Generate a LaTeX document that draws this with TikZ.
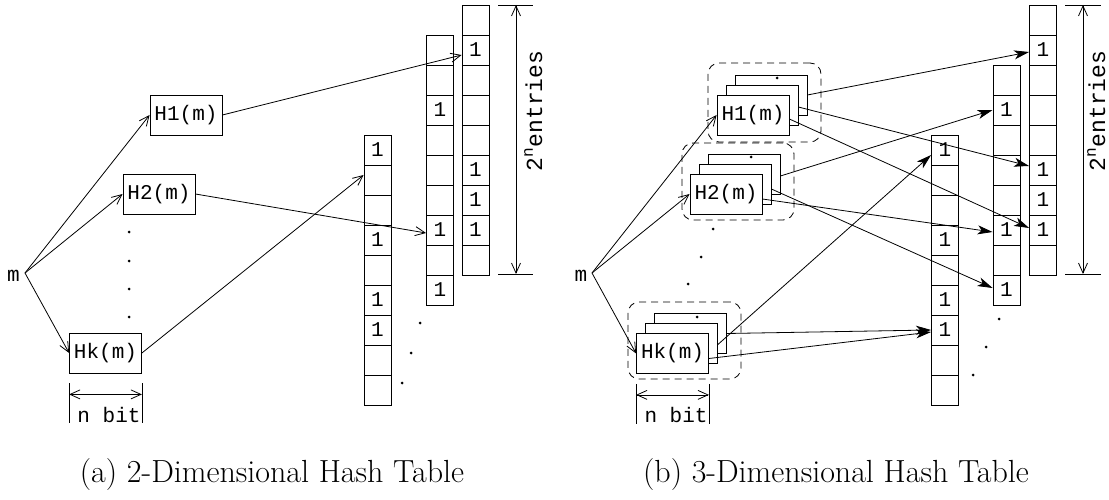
\documentclass[tikz,border=0pt]{standalone}
\usepackage{fontspec}
\setmonofont{Liberation Mono}
\usetikzlibrary{arrows.meta,calc}
\begin{document}
\begin{tikzpicture}[x=1pt,y=-1pt,line width=0.8pt,
  tt/.style={font=\ttfamily\fontsize{21}{21}\selectfont},
  ttbig/.style={font=\ttfamily\fontsize{23}{23}\selectfont},
  hash/.style={draw,fill=white,minimum width=72pt,minimum height=40pt,inner sep=0pt,tt},
  cell/.style={draw,minimum width=27pt,minimum height=30pt,inner sep=0pt,tt},
  oarrow/.style={-{Straight Barb[length=10pt,width=9pt]}},
  dbl/.style={{Straight Barb[length=10pt,width=9pt]}-{Straight Barb[length=10pt,width=9pt]}},
  farrow/.style={-{Stealth[length=15pt,width=9pt,inset=4pt]}},
  grp/.style={draw,dash pattern=on 7pt off 5pt,rounded corners=11pt},
  dot/.style={circle,fill,inner sep=0pt,minimum size=3pt},
  captext/.style={font=\fontsize{32}{32}\selectfont}]
\useasboundingbox (0,0) rectangle (1109,500);

% ================= (a) =================
\node[tt] (ma-t) at (13.5,276) {m};
\coordinate (ma) at (25,273);
\node[hash] (H1a) at (186,115) {H1(m)};
\node[hash] (H2a) at (159,194) {H2(m)};
\node[hash] (Hka) at (105.5,353) {Hk(m)};
\foreach \y [count=\k] in {232,261,289,317} \node[dot] (da\k) at (129,\y) {};

\foreach \i/\t in {1/1,2/{},3/{},4/1,5/{},6/1,7/1,8/{},9/{}}
  \node[cell] (A1-\i) at (377.5,{120+30*\i}) {\t};
\foreach \i/\t in {1/{},2/{},3/1,4/{},5/{},6/{},7/1,8/{},9/1}
  \node[cell] (A2-\i) at (440,{20+30*\i}) {\t};
\foreach \i/\t in {1/{},2/1,3/{},4/{},5/{},6/1,7/1,8/1,9/{}}
  \node[cell] (A3-\i) at (475.5,{-10+30*\i}) {\t};
\node[dot] (ta1) at (420,323) {};
\node[dot] (ta2) at (411,353) {};
\node[dot] (ta3) at (402,383) {};

\draw[oarrow] (ma) -- (H1a.west);
\draw[oarrow] (ma) -- (H2a.west);
\draw[oarrow] (ma) -- (Hka.west);
\draw[oarrow] (H1a.east) -- ($(A3-2.west)+(0,5)$);
\draw[oarrow] (H2a.east) -- ($(A2-7.west)+(0,3)$);
\draw[oarrow] (Hka.east) -- ($(A1-2.west)+(0,-5)$);

% n bit (a)
\draw ($(Hka.south west)+(0,10)$) -- ($(Hka.south west)+(0,50)$);
\draw ($(Hka.south east)+(0,10)$) -- ($(Hka.south east)+(0,50)$);
\draw[dbl] ($(Hka.south west)+(0,21)$) -- ($(Hka.south east)+(0,21)$);
\node[tt,anchor=base] (nba) at (109,422) {n bit};

% 2^n entries (a)
\coordinate (ea-t) at (516,5);
\coordinate (ea-b) at (516,274);
\draw ($(ea-t)+(-18,0)$) -- ($(ea-t)+(17,0)$);
\draw ($(ea-b)+(-18,0)$) -- ($(ea-b)+(17,0)$);
\draw[dbl] (ea-t) -- (ea-b);
\node[ttbig,rotate=90,anchor=base,inner sep=0pt] (ena) at (542,111) {2\textsuperscript{n}entries};

\node[captext] (capa) at (272,475) {(a) 2-Dimensional Hash Table};

% ================= (b) =================
\node[tt] (mb-t) at (581,276) {m};
\coordinate (mb) at (592,273);

\node[grp,minimum width=113pt,minimum height=79pt] (G1) at (764.5,102.5) {};
\node[grp,minimum width=112pt,minimum height=77pt] (G2) at (738,181.5) {};
\node[grp,minimum width=113pt,minimum height=77pt] (Gk) at (684.5,340.5) {};

\node[hash] (H1b3) at (771,95) {};
\node[dot] (H1b3d) at (777,78) {};
\node[hash] (H1b2) at (762,105) {};
\node[hash] (H1b) at (753,115) {H1(m)};

\node[hash] (H2b3) at (744,174) {};
\node[dot] (H2b3d) at (751,157) {};
\node[hash] (H2b2) at (735,184) {};
\node[hash] (H2b) at (726,194) {H2(m)};

\node[hash] (Hkb3) at (690.5,333.5) {};
\node[dot] (Hkb3d) at (697,317) {};
\node[hash] (Hkb2) at (681.5,343.5) {};
\node[hash] (Hkb) at (672.5,353.5) {Hk(m)};

\node[dot] (db1) at (713,229) {};
\node[dot] (db2) at (701,257) {};
\node[dot] (db3) at (688,284) {};

\foreach \i/\t in {1/1,2/{},3/{},4/1,5/{},6/1,7/1,8/{},9/{}}
  \node[cell] (B1-\i) at (945,{120+30*\i}) {\t};
\foreach \i/\t in {1/{},2/1,3/{},4/{},5/{},6/1,7/{},8/1}
  \node[cell] (B2-\i) at (1006.5,{50+30*\i}) {\t};
\foreach \i/\t in {1/{},2/1,3/{},4/{},5/{},6/1,7/1,8/1,9/{}}
  \node[cell] (B3-\i) at (1043,{-10+30*\i}) {\t};
\node[dot] (tb1) at (999,319) {};
\node[dot] (tb2) at (986,347) {};
\node[dot] (tb3) at (973,375) {};

\draw[oarrow] (mb) -- (H1b.west);
\draw[oarrow] (mb) -- (H2b.west);
\draw[oarrow] (mb) -- (Hkb.west);

\draw[farrow] (H1b3.east) -- ($(B3-2.west)+(0,2)$);
\draw[farrow] ($(H1b2.east)+(0,2)$) -- ($(B3-6.west)+(0,-4)$);
\draw[farrow] ($(H1b.east)+(0,4)$) -- ($(B3-8.west)+(0,-2)$);
\draw[farrow] ($(H2b3.east)+(0,2)$) -- (B2-2.west);
\draw[farrow] ($(H2b2.east)+(0,5)$) -- ($(B2-8.west)+(0,-2)$);
\draw[farrow] ($(H2b.east)+(0,5)$) -- ($(B2-6.west)+(0,2)$);
\draw[farrow] (Hkb3.east) -- (B1-7.west);
\draw[farrow] ($(Hkb2.east)+(0,1)$) -- ($(B1-1.west)+(0,5)$);
\draw[farrow] ($(Hkb.east)+(0,5)$) -- ($(B1-7.west)+(0,2)$);

% n bit (b)
\draw ($(Hkb.south west)+(0,10)$) -- ($(Hkb.south west)+(0,50)$);
\draw ($(Hkb.south east)+(0,10)$) -- ($(Hkb.south east)+(0,50)$);
\draw[dbl] ($(Hkb.south west)+(0,21)$) -- ($(Hkb.south east)+(0,21)$);
\node[tt,anchor=base] (nbb) at (676,422) {n bit};

% 2^n entries (b)
\coordinate (eb-t) at (1083,5);
\coordinate (eb-b) at (1083,274);
\draw ($(eb-t)+(-18,0)$) -- ($(eb-t)+(18,0)$);
\draw ($(eb-b)+(-18,0)$) -- ($(eb-b)+(18,0)$);
\draw[dbl] (eb-t) -- (eb-b);
\node[ttbig,rotate=90,anchor=base,inner sep=0pt] (enb) at (1105,111) {2\textsuperscript{n}entries};

\node[captext] (capb) at (836,475) {(b) 3-Dimensional Hash Table};
\end{tikzpicture}
\end{document}
